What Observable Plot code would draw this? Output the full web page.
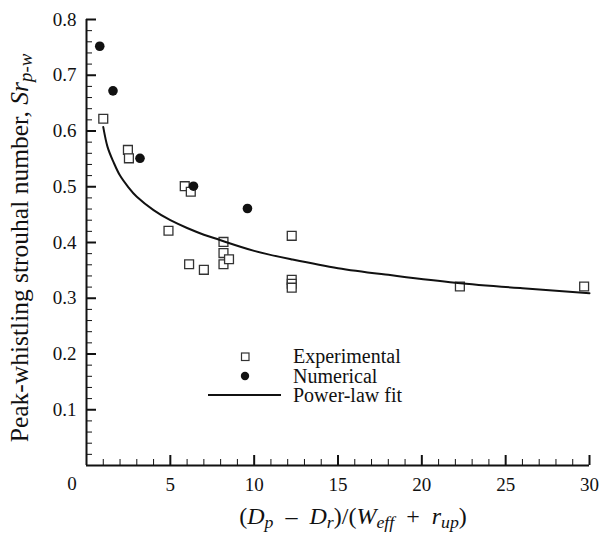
<!DOCTYPE html>
<html><head><meta charset="utf-8">
<script src="https://cdn.jsdelivr.net/npm/d3@7"></script>
<script src="https://cdn.jsdelivr.net/npm/@observablehq/plot@0.6"></script>
<style>
body{margin:0;background:#fff;}
svg, svg text{font-family:"Liberation Serif","Times New Roman",Times,"DejaVu Serif","Liberation Sans",sans-serif !important;}
</style></head><body><div id="chart"></div>
<script>
// Experimental (open squares)
const expX = [1.0, 2.47, 2.53, 4.89, 5.86, 6.22, 6.12, 7.0, 8.17, 8.17, 8.17, 8.5, 12.24, 12.24, 12.24, 12.24, 22.27, 29.68];
const expY = [0.622, 0.566, 0.551, 0.421, 0.501, 0.491, 0.361, 0.351, 0.401, 0.381, 0.361, 0.37, 0.412, 0.333, 0.326, 0.319, 0.321, 0.321];
// Numerical (filled circles)
const numX = [0.79, 1.58, 3.19, 6.38, 9.6];
const numY = [0.752, 0.672, 0.551, 0.501, 0.461];
// Power-law fit
const fitX = [1.0, 1.25, 1.6, 2.0, 2.5, 3.0, 4.0, 5.0, 6.0, 7.0, 8.0, 10.0, 12.2, 15.0, 18.0, 22.0, 26.0, 30.0];
const fitY = [0.607, 0.572, 0.545, 0.520, 0.499, 0.482, 0.458, 0.440, 0.426, 0.414, 0.404, 0.385, 0.370, 0.354, 0.342, 0.328, 0.318, 0.309];
// Ticks
const xMajor = [5, 10, 15, 20, 25, 30];
const yMajor = [0.1, 0.2, 0.3, 0.4, 0.5, 0.6, 0.7, 0.8];
const xMinor = d3.range(1, 30).filter(v => v % 5 !== 0);
const yMinor = d3.range(1, 40).filter(i => i % 5 !== 0).map(i => +(i * 0.02).toFixed(2));
const legendLabels = ["Experimental", "Numerical", "Power-law fit"];

const exp = expX.map((x, i) => ({x, y: expY[i]}));
const num = numX.map((x, i) => ({x, y: numY[i]}));
const fit = fitX.map((x, i) => ({x, y: fitY[i]}));

const ink = "#111";
const font = '"Liberation Serif", "Times New Roman", Times, "DejaVu Serif", "Liberation Sans", sans-serif';
const svg = Plot.plot({
  width: 601,
  height: 537,
  marginLeft: 86,
  marginRight: 12,
  marginTop: 19,
  marginBottom: 72,
  style: {fontFamily: font, background: "#fff", color: ink},
  x: {domain: [0, 30]},
  y: {domain: [0, 0.8]},
  marks: [
    // tick labels
    Plot.axisX({ticks: xMajor, tickSize: 0, tickPadding: 12, fontSize: 19, label: null, tickFormat: d => String(d)}),
    Plot.axisY({ticks: yMajor, tickSize: 0, tickPadding: 10, fontSize: 19, label: null, tickFormat: d => String(d)}),
    Plot.text([{x: 0, y: 0}], {x: "x", y: "y", text: () => "0", dx: -14.5, dy: 18.5, fontSize: 19, lineAnchor: "middle", textAnchor: "middle", fill: ink}),
    // inward ticks
    Plot.axisX({ticks: xMajor, tickSize: 10, dy: -10, text: null, label: null, strokeWidth: 2, stroke: ink}),
    Plot.axisX({ticks: xMinor, tickSize: 6, dy: -6, text: null, label: null, strokeWidth: 1, stroke: ink}),
    Plot.axisY({ticks: yMajor, tickSize: 10, dx: 10, text: null, label: null, strokeWidth: 2, stroke: ink}),
    Plot.axisY({ticks: yMinor, tickSize: 6, dx: 6, text: null, label: null, strokeWidth: 1, stroke: ink}),
    // axis lines
    Plot.ruleX([0], {stroke: ink, strokeWidth: 2}),
    Plot.ruleY([0], {stroke: ink, strokeWidth: 2}),
    // data
    Plot.dot(exp, {x: "x", y: "y", symbol: "square", r: 5, fill: "#fff", stroke: "#333", strokeWidth: 1.3}),
    Plot.line(fit, {x: "x", y: "y", curve: "natural", stroke: ink, strokeWidth: 2}),
    Plot.dot(num, {x: "x", y: "y", r: 4.8, fill: ink, stroke: "none"})
  ]
});

const s = d3.select(svg);
// Legend
const lg = s.append("g").attr("font-size", 20).attr("fill", ink).attr("text-anchor", "start");
lg.append("rect").attr("x", 241.5).attr("y", 353).attr("width", 7.5).attr("height", 7.5)
  .attr("fill", "#fff").attr("stroke", "#333").attr("stroke-width", 1.2);
lg.append("circle").attr("cx", 245).attr("cy", 376).attr("r", 4.2).attr("fill", ink);
lg.append("line").attr("x1", 208).attr("x2", 281).attr("y1", 395).attr("y2", 395)
  .attr("stroke", ink).attr("stroke-width", 2);
legendLabels.forEach((t, i) => {
  lg.append("text").attr("x", 293).attr("y", 363 + i * 19.5).attr("text-anchor", "start").text(t);
});

function part(el, txt, italic, sub) {
  const t = el.append("tspan").text(txt);
  if (italic) t.attr("font-style", "italic");
  if (sub) t.attr("font-size", "0.74em").attr("baseline-shift", "-22%");
  return t;
}
// X title
const xt = s.append("text").attr("x", 353).attr("y", 524).attr("text-anchor", "middle")
  .attr("font-size", 24).attr("fill", ink);
part(xt, "(");
part(xt, "D", true);
part(xt, "p", true, true);
part(xt, "\u2002–\u2002");
part(xt, "D", true);
part(xt, "r", true, true);
part(xt, ")/(");
part(xt, "W", true);
part(xt, "eff", true, true);
part(xt, "\u2002+\u2002");
part(xt, "r", true);
part(xt, "up", true, true);
part(xt, ")");

// Y title
const yt = s.append("text").attr("transform", "translate(28,248) rotate(-90)")
  .attr("text-anchor", "middle").attr("font-size", 25.5).attr("fill", ink);
part(yt, "Peak-whistling strouhal number, ");
part(yt, "Sr", true);
part(yt, "p-w", true, true);

document.getElementById("chart").appendChild(svg);
</script>
</body></html>
